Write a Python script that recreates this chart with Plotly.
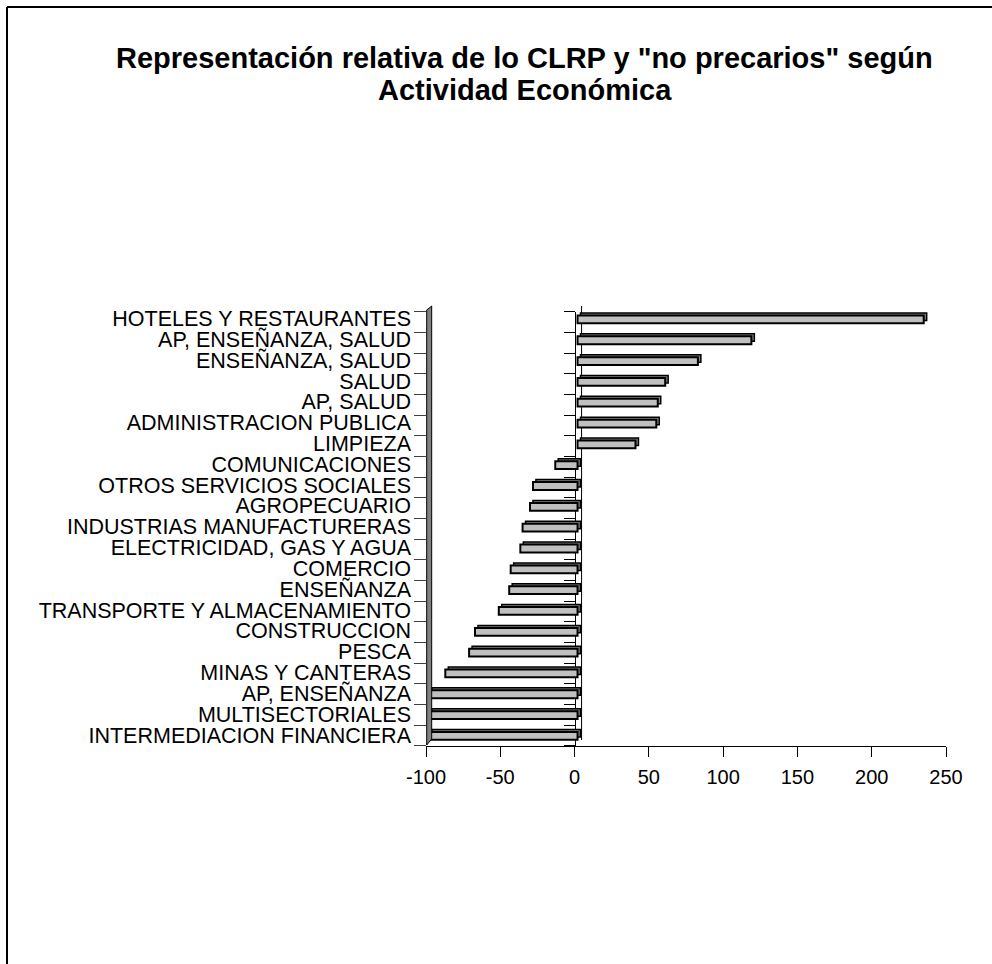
import plotly.graph_objects as go

categories = [
    "HOTELES Y RESTAURANTES",
    "AP, ENSEÑANZA, SALUD",
    "ENSEÑANZA, SALUD",
    "SALUD",
    "AP, SALUD",
    "ADMINISTRACION PUBLICA",
    "LIMPIEZA",
    "COMUNICACIONES",
    "OTROS SERVICIOS SOCIALES",
    "AGROPECUARIO",
    "INDUSTRIAS MANUFACTURERAS",
    "ELECTRICIDAD, GAS Y AGUA",
    "COMERCIO",
    "ENSEÑANZA",
    "TRANSPORTE Y ALMACENAMIENTO",
    "CONSTRUCCION",
    "PESCA",
    "MINAS Y CANTERAS",
    "AP, ENSEÑANZA",
    "MULTISECTORIALES",
    "INTERMEDIACION FINANCIERA",
]
values = [233, 117, 81, 59, 54, 53, 39, -15, -30, -32, -37, -38.5, -45, -46,
          -53, -69, -73, -89, -100, -100, -100]
x_ticks = [-100, -50, 0, 50, 100, 150, 200, 250]
x_tick_labels = ["-100", "-50", "0", "50", "100", "150", "200", "250"]
x_range = [-100, 250]
title_lines = ['Representación relativa de lo CLRP y "no precarios" según',
               'Actividad Económica']

W, H = 992, 964
FONT = "Liberation Sans"


def PX(x):
    return x / W


def PY(y):
    return 1 - y / H


xdom = [PX(426), PX(946)]
ydom = [PY(745.7), PY(311.7)]
zero_pos = xdom[0] + (0 - x_range[0]) / (x_range[1] - x_range[0]) * (xdom[1] - xdom[0])

FRONT_BASE = 2.0
BACK_BASE = 4.0

fig = go.Figure()
# back (depth) face
fig.add_trace(go.Bar(
    y=categories, x=values, base=BACK_BASE, orientation="h",
    offset=-0.264, width=0.36,
    marker=dict(color="#808080", line=dict(color="black", width=1.5)),
    hoverinfo="skip", showlegend=False,
))
# front face
fig.add_trace(go.Bar(
    y=categories, x=values, base=FRONT_BASE, orientation="h",
    offset=-0.144, width=0.375,
    marker=dict(color="#C0C0C0", line=dict(color="black", width=2)),
    showlegend=False,
))
for ax in ("y2", "y3"):
    fig.add_trace(go.Scatter(x=[0], y=[0], yaxis=ax, mode="markers",
                             marker=dict(opacity=0), hoverinfo="skip",
                             showlegend=False))

n = len(categories)
fig.update_layout(
    width=W, height=H,
    margin=dict(l=0, r=0, t=0, b=0),
    paper_bgcolor="white", plot_bgcolor="rgba(0,0,0,0)",
    barmode="overlay", showlegend=False,
    font=dict(family=FONT, color="black"),
    xaxis=dict(
        domain=xdom, range=x_range, tickmode="array", tickvals=x_ticks,
        ticktext=x_tick_labels,
        ticks="outside", ticklen=10, tickcolor="black", tickwidth=1,
        showline=True, linecolor="black", linewidth=1,
        showgrid=False, zeroline=False, tickfont=dict(size=20, family=FONT),
        ticklabelstandoff=3,
        anchor="y", automargin=False,
    ),
    yaxis=dict(
        type="category", categoryorder="array", categoryarray=categories,
        tickmode="array", tickvals=categories, ticktext=categories,
        range=[20.514, -0.327], domain=ydom, anchor="free", position=xdom[0],
        ticks="", showline=False, showgrid=False, zeroline=False,
        tickfont=dict(size=21.5, family=FONT), ticklabelstandoff=15,
        automargin=False,
    ),
    yaxis2=dict(
        overlaying="y", anchor="free", position=xdom[0], range=[n, 0],
        tickvals=list(range(n + 1)), ticks="outside", ticklen=12,
        tickcolor="#404040", showticklabels=False, showline=False,
        showgrid=False, zeroline=False, automargin=False,
    ),
    yaxis3=dict(
        overlaying="y", anchor="free", position=zero_pos, range=[n, 0],
        tickvals=list(range(n + 1)), ticks="outside", ticklen=11,
        tickcolor="black", showticklabels=False, showline=True,
        linecolor="black", linewidth=1, showgrid=False, zeroline=False,
        automargin=False, layer="below traces",
    ),
)

for i, (txt, yy) in enumerate(zip(title_lines, [58, 90])):
    fig.add_annotation(
        x=PX(524.5), y=PY(yy), xref="paper", yref="paper",
        text="<b>" + txt + "</b>", showarrow=False,
        xanchor="center", yanchor="middle",
        font=dict(family=FONT, size=29, color="black"),
    )

# outer border
fig.add_shape(type="line", xref="paper", yref="paper",
              x0=PX(7), x1=PX(992), y0=PY(7), y1=PY(7),
              line=dict(color="black", width=2))
fig.add_shape(type="line", xref="paper", yref="paper",
              x0=PX(7), x1=PX(7), y0=PY(7), y1=PY(964),
              line=dict(color="black", width=2))
# side wall
wall = [(426.7, 310), (431.7, 306), (431.7, 739), (426.7, 745)]
path = "M " + " L ".join(f"{PX(a)},{PY(b)}" for a, b in wall) + " Z"
fig.add_shape(type="path", xref="paper", yref="paper", path=path,
              fillcolor="#808080", line=dict(color="black", width=1))
# back plane line at zero
fig.add_shape(type="line", xref="x", yref="paper", xsizemode="pixel",
              xanchor=0, x0=7, x1=7, y0=PY(740), y1=PY(306),
              line=dict(color="black", width=1), layer="below")

fig.write_html("out.html",
               config={"displayModeBar": False},
               post_script="document.body.style.margin='0px';"
                           "document.body.style.overflow='hidden';")
